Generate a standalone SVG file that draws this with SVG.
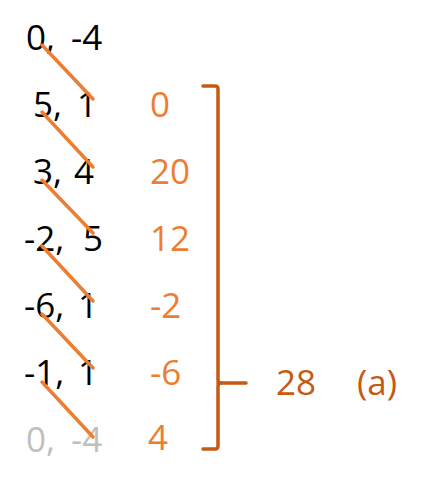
<svg xmlns="http://www.w3.org/2000/svg" width="423" height="485" viewBox="0 0 423 485">
<style>
text{font-family:"Open Sans","Noto Sans","DejaVu Sans",sans-serif;font-size:35px}
.k{fill:#000}
.g{fill:#BFBFBF}
.o{fill:#ED7D31}
.d{fill:#C55A11}
.ln{stroke:#ED7D31;stroke-width:3.5;stroke-linecap:round;fill:none}
.br{stroke:#C55A11;stroke-width:3.5;fill:none;stroke-linecap:round;stroke-linejoin:round}
</style>
<rect width="423" height="485" fill="#fff"/>
<g id="pairs">
<text id="p1" class="k" y="50"><tspan x="26">0,</tspan> <tspan x="71">-4</tspan></text>
<text id="p2" class="k" y="117"><tspan x="33">5,</tspan> <tspan x="77">1</tspan></text>
<text id="p3" class="k" y="184"><tspan x="33">3,</tspan> <tspan x="74">4</tspan></text>
<text id="p4" class="k" y="251"><tspan x="24">-2,</tspan> <tspan x="83">5</tspan></text>
<text id="p5" class="k" y="318"><tspan x="24">-6,</tspan> <tspan x="78">1</tspan></text>
<text id="p6" class="k" y="385"><tspan x="24">-1,</tspan> <tspan x="78">1</tspan></text>
<text id="p7" class="g" y="452"><tspan x="26">0,</tspan> <tspan x="71">-4</tspan></text>
</g>
<g id="connectors">
<line class="ln" x1="42" y1="45" x2="93" y2="99"/>
<line class="ln" x1="42" y1="112" x2="93" y2="167"/>
<line class="ln" x1="42" y1="180" x2="93" y2="233"/>
<line class="ln" x1="42" y1="246" x2="93" y2="301"/>
<line class="ln" x1="42" y1="314" x2="93" y2="368"/>
<line class="ln" x1="42" y1="382" x2="93" y2="437"/>
</g>
<g id="products">
<text class="o" x="150" y="117">0</text>
<text class="o" x="150" y="184">20</text>
<text class="o" x="150" y="251">12</text>
<text class="o" x="150" y="318">-2</text>
<text class="o" x="150" y="385">-6</text>
<text class="o" x="148" y="450">4</text>
</g>
<g id="bracket">
<path class="br" d="M203,86 L215,86 Q218,86 218,89 L218,380 Q218,383 221,383 Q218,383 218,386 L218,446 Q218,449 215,449 L203,449"/>
<line class="br" x1="218" y1="383" x2="246" y2="383"/>
</g>
<g id="result">
<text class="d" x="276" y="395">28</text>
<text class="d" x="357" y="395">(a)</text>
</g>
</svg>
